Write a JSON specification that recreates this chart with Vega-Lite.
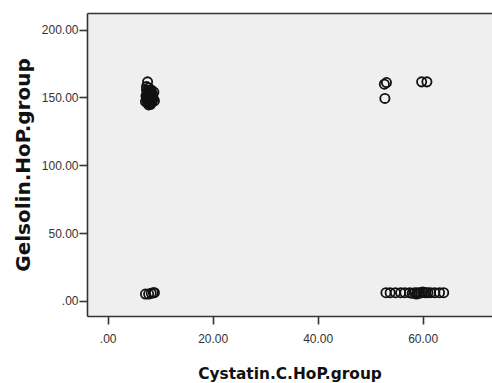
{
  "$schema": "https://vega.github.io/schema/vega-lite/v6.json",
  "width": 405,
  "height": 303,
  "autosize": "none",
  "padding": {"left": 87, "top": 13, "right": 0, "bottom": 67},
  "background": "white",
  "data": {
    "values": [
      {"cys": 7.6, "gel": 161.5}, {"cys": 7.4, "gel": 158}, {"cys": 7.8, "gel": 157}, {"cys": 8.3, "gel": 155.5},
      {"cys": 8.8, "gel": 154}, {"cys": 7.5, "gel": 153}, {"cys": 8.0, "gel": 152}, {"cys": 7.3, "gel": 151},
      {"cys": 8.5, "gel": 150}, {"cys": 7.7, "gel": 150}, {"cys": 8.1, "gel": 149}, {"cys": 7.5, "gel": 148},
      {"cys": 8.9, "gel": 147.5}, {"cys": 8.4, "gel": 147}, {"cys": 7.9, "gel": 146.5}, {"cys": 7.6, "gel": 146},
      {"cys": 8.2, "gel": 145}, {"cys": 7.8, "gel": 144.5}, {"cys": 7.4, "gel": 149.5}, {"cys": 8.0, "gel": 155},
      {"cys": 7.6, "gel": 154}, {"cys": 7.9, "gel": 152.5}, {"cys": 8.6, "gel": 152}, {"cys": 7.2, "gel": 147},
      {"cys": 8.7, "gel": 149}, {"cys": 8.1, "gel": 151}, {"cys": 7.7, "gel": 148.5}, {"cys": 8.3, "gel": 153.5},
      {"cys": 7.4, "gel": 155.5}, {"cys": 8.0, "gel": 146}, {"cys": 8.4, "gel": 150.5}, {"cys": 7.6, "gel": 151.5},
      {"cys": 53.1, "gel": 161}, {"cys": 52.7, "gel": 159.8}, {"cys": 52.8, "gel": 149.3},
      {"cys": 59.8, "gel": 161.5}, {"cys": 60.8, "gel": 161.5},
      {"cys": 7.2, "gel": 5}, {"cys": 7.8, "gel": 5}, {"cys": 8.3, "gel": 5.5}, {"cys": 8.7, "gel": 6}, {"cys": 8.9, "gel": 6},
      {"cys": 53.0, "gel": 6}, {"cys": 53.8, "gel": 6}, {"cys": 54.8, "gel": 6}, {"cys": 55.8, "gel": 6},
      {"cys": 56.6, "gel": 6}, {"cys": 57.5, "gel": 6}, {"cys": 58.0, "gel": 5.5}, {"cys": 58.5, "gel": 6},
      {"cys": 58.8, "gel": 5}, {"cys": 59.0, "gel": 6}, {"cys": 59.3, "gel": 5.5}, {"cys": 59.6, "gel": 6},
      {"cys": 60.0, "gel": 6.5}, {"cys": 60.3, "gel": 6}, {"cys": 60.6, "gel": 6}, {"cys": 61.0, "gel": 6},
      {"cys": 61.5, "gel": 6}, {"cys": 62.3, "gel": 6}, {"cys": 63.2, "gel": 6}, {"cys": 64.0, "gel": 6}
    ]
  },
  "layer": [
    {
      "mark": {"type": "point", "filled": false, "stroke": "#111111", "strokeWidth": 1.8, "size": 85, "opacity": 1},
      "encoding": {
        "x": {
          "field": "cys", "type": "quantitative",
          "scale": {"domain": [-3.94, 73.2], "nice": false, "zero": false},
          "axis": {
            "title": "Cystatin.C.HoP.group", "values": [0, 20, 40, 60],
            "labelExpr": "datum.value == 0 ? '.00' : format(datum.value, '.2f')",
            "orient": "bottom", "grid": false, "tickSize": 8, "labelPadding": 9,
            "titlePadding": 22
          }
        },
        "y": {
          "field": "gel", "type": "quantitative",
          "scale": {"domain": [-11.2, 212.3], "nice": false, "zero": false},
          "axis": {
            "title": "Gelsolin.HoP.group", "values": [0, 50, 100, 150, 200],
            "labelExpr": "datum.value == 0 ? '.00' : format(datum.value, '.2f')",
            "grid": false, "tickSize": 8, "labelPadding": 1, "titlePadding": 8,
            "titleFontSize": 20
          }
        }
      }
    },
    {
      "mark": {"type": "point", "opacity": 0},
      "encoding": {
        "x": {
          "field": "cys", "type": "quantitative",
          "axis": {"orient": "top", "labels": false, "ticks": false, "title": null, "grid": false}
        },
        "y": {"field": "gel", "type": "quantitative"}
      }
    }
  ],
  "resolve": {"axis": {"x": "independent"}},
  "config": {
    "view": {"fill": "#efefef", "stroke": null},
    "axis": {
      "labelFont": "Liberation Sans", "labelFontSize": 12, "labelColor": "#333333",
      "titleFont": "DejaVu Sans", "titleFontWeight": "bold", "titleFontSize": 15.4, "titleColor": "#111111",
      "domainColor": "#333333", "domainWidth": 1.6, "tickColor": "#333333", "tickWidth": 1.6
    }
  }
}
